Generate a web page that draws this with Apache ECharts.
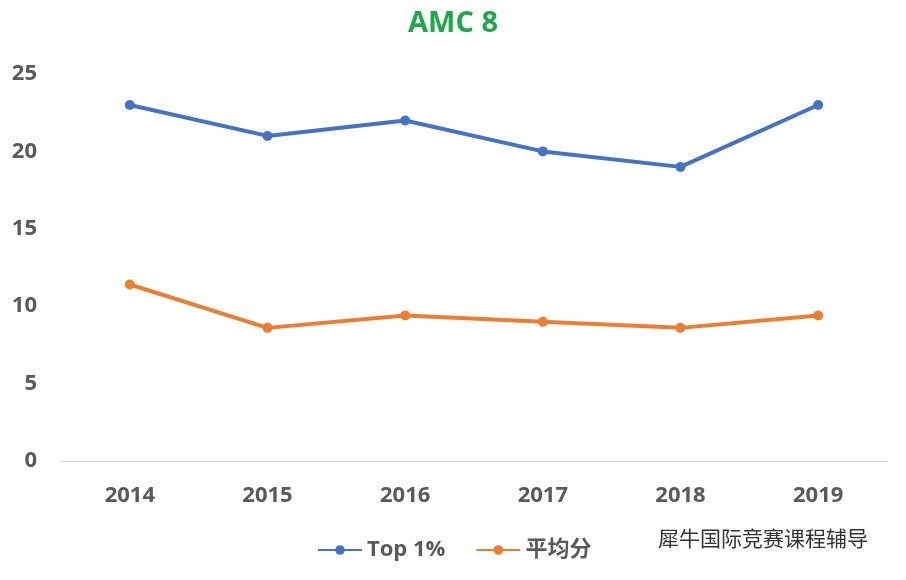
<!DOCTYPE html>
<html><head><meta charset="utf-8">
<script src="https://cdn.jsdelivr.net/npm/echarts@6/dist/echarts.min.js"></script>
<style>html,body{margin:0;padding:0;background:#fff}#c{width:906px;height:580px}</style>
</head><body><div id="c"></div>
<script>
const categories = ['2014','2015','2016','2017','2018','2019'];
const top1 = [23, 21, 22, 20, 19, 23];
const avg = [11.4, 8.6, 9.4, 9.0, 8.6, 9.4];
const seriesNames = ['Top 1%', '平均分'];
const font = '"Open Sans","Noto Sans CJK SC",sans-serif';
const chart = echarts.init(document.getElementById('c'));
chart.setOption({
  animation: false,
  title: {text: 'AMC 8', left: 'center', top: 4, textStyle: {color: '#1fa84a', fontSize: 29, fontWeight: 'bold', fontFamily: font}},
  grid: {left: 61, right: 19, top: 74, bottom: 119},
  legend: {bottom: 14, left: 312, itemGap: 30, itemWidth: 44, itemHeight: 12,
    textStyle: {fontSize: 22, fontWeight: 'bold', color: '#595959', fontFamily: font}, data: seriesNames},
  xAxis: {type: 'category', data: categories, boundaryGap: true,
    axisLine: {lineStyle: {color: '#d9d9d9'}}, axisTick: {show: false},
    axisLabel: {fontSize: 22, fontWeight: 'bold', color: '#595959', margin: 24, fontFamily: font}},
  yAxis: {type: 'value', min: 0, max: 25, interval: 5, splitLine: {show: false},
    axisLabel: {fontSize: 22, fontWeight: 'bold', color: '#595959', margin: 24, fontFamily: font}},
  series: [
    {name: seriesNames[0], type: 'line', data: top1, symbol: 'circle', symbolSize: 10,
     lineStyle: {width: 4, color: '#4472c4'}, itemStyle: {color: '#4472c4'}},
    {name: seriesNames[1], type: 'line', data: avg, symbol: 'circle', symbolSize: 10,
     lineStyle: {width: 4, color: '#ed7d31'}, itemStyle: {color: '#ed7d31'}}
  ],
  graphic: [{type: 'text', left: 658, top: 528, style: {text: '犀牛国际竞赛课程辅导', fill: '#333', font: '21px "Noto Sans CJK SC"'}}]
});
</script></body></html>
